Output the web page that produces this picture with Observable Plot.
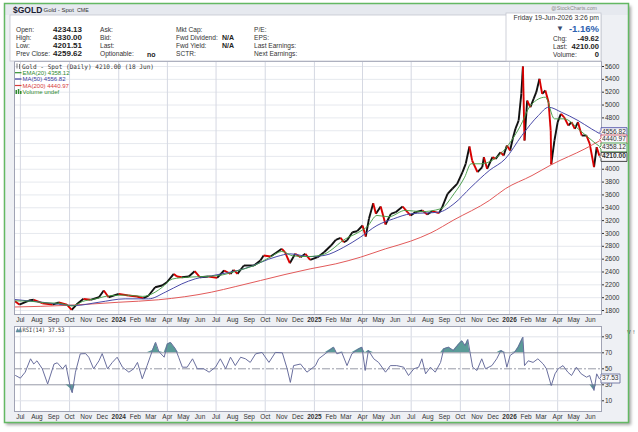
<!DOCTYPE html>
<html><head><meta charset="utf-8">
<script src="https://cdn.jsdelivr.net/npm/d3@7"></script>
<script src="https://cdn.jsdelivr.net/npm/@observablehq/plot@0.6"></script>
<style>
html,body{margin:0;padding:0;}
body{width:638px;height:432px;position:relative;overflow:hidden;background:#ffffff;}
#bg{position:absolute;left:4px;top:3px;width:625px;height:419px;background:#eef0f4;box-shadow:2px 3px 3px rgba(0,0,0,0.35);}
#main{position:absolute;left:0;top:61px;}
#rsi{position:absolute;left:0;top:326px;}
#over{position:absolute;left:0;top:0;pointer-events:none;}
#over text{dominant-baseline:central;}
</style></head><body>
<div id="bg"></div>
<div id="main"></div>
<div id="rsi"></div>
<svg id="over" width="638" height="432" font-family="Liberation Sans, Arial, sans-serif">
  <rect x="5" y="4" width="623" height="11" fill="#e6e9ef"/>
  <rect x="10" y="15" width="591" height="46" fill="#ffffff" stroke="#c3c6d0" stroke-width="0.8"/>
  <rect x="506" y="13" width="95" height="48" fill="#ffffff" stroke="#c3c6d0" stroke-width="0.8"/>
  <text x="13" y="9.8" font-size="8.5" font-weight="bold" fill="#1c2233">$GOLD</text>
  <text x="43.5" y="10" font-size="6" fill="#333">Gold - Spot</text>
  <text x="77" y="10" font-size="5.3" fill="#333">CME</text>
  <text x="597" y="7.5" font-size="5.3" fill="#8a8a8a" text-anchor="end">@StockCharts.com</text>

  <g font-size="6.6" fill="#333">
    <text x="16" y="29.5">Open:</text><text x="16" y="37.5">High:</text><text x="16" y="45.5">Low:</text><text x="16" y="53.5">Prev Close:</text>
    <text x="100" y="29.5">Ask:</text><text x="100" y="37.5">Bid:</text><text x="100" y="45.5">Last:</text><text x="100" y="53.5">Optionable:</text>
    <text x="176" y="29.5">Mkt Cap:</text><text x="176" y="37.5">Fwd Dividend:</text><text x="176" y="45.5">Fwd Yield:</text><text x="176" y="53.5">SCTR:</text>
    <text x="254" y="29.5">P/E:</text><text x="254" y="37.5">EPS:</text><text x="254" y="45.5">Last Earnings:</text><text x="254" y="53.5">Next Earnings:</text>
  </g>
  <g font-size="8" font-weight="bold" fill="#222" text-anchor="end">
    <text x="82" y="29.5">4234.13</text><text x="82" y="37.5">4330.00</text><text x="82" y="45.5">4201.51</text><text x="82" y="53.5">4259.62</text>
  </g>
  <g font-size="7" font-weight="bold" fill="#222">
    <text x="147" y="54">no</text>
    <text x="222" y="37.5">N/A</text><text x="222" y="45.5">N/A</text>
  </g>
  <text x="599" y="17" font-size="6.8" fill="#333" text-anchor="end">Friday  19-Jun-2026  3:26 pm</text>
  <text x="556" y="28.8" font-size="8" fill="#3a4a6b">▼</text>
  <text x="599" y="28.8" font-size="9.5" font-weight="bold" fill="#2c62b0" text-anchor="end">-1.16%</text>
  <g font-size="6.6" fill="#333">
    <text x="553" y="38">Chg:</text><text x="553" y="46">Last:</text><text x="553" y="54">Volume:</text>
  </g>
  <g font-size="7.6" font-weight="bold" fill="#222" text-anchor="end">
    <text x="599" y="38">-49.62</text><text x="599" y="46">4210.00</text><text x="599" y="54">0</text>
  </g>

  <g>
    <line x1="17" y1="63.5" x2="17" y2="68.5" stroke="#555" stroke-width="0.8"/>
    <line x1="19.5" y1="64" x2="19.5" y2="69" stroke="#555" stroke-width="0.8"/>
    <text x="22" y="66" font-size="6.3" font-family="DejaVu Sans Mono, monospace" fill="#333" textLength="132" lengthAdjust="spacingAndGlyphs">Gold - Spot (Daily) 4210.00 (18 Jun)</text>
    <line x1="15" y1="72.7" x2="21.5" y2="72.7" stroke="#2f8f2f" stroke-width="1.2"/>
    <text x="22.5" y="72.7" font-size="6" fill="#2f8a2f">EMA(20) 4358.12</text>
    <line x1="15" y1="79" x2="21.5" y2="79" stroke="#3b3b9e" stroke-width="1.2"/>
    <text x="22.5" y="79" font-size="6" fill="#3b3b9e">MA(50) 4556.82</text>
    <line x1="15" y1="85.5" x2="21.5" y2="85.5" stroke="#d63a3a" stroke-width="1.2"/>
    <text x="22.5" y="85.5" font-size="6" fill="#d63a3a">MA(200) 4440.97</text>
    <rect x="15.5" y="90" width="1.5" height="4" fill="#2f8a2f"/><rect x="17.8" y="89" width="1.5" height="5" fill="#2f8a2f"/><rect x="20" y="91" width="1.5" height="3" fill="#2f8a2f"/>
    <text x="22.5" y="92" font-size="6" fill="#2f8a2f">Volume undef</text>
  </g>
  <g>
    <path d="M16,332 L17.5,328.5 L19,331 L20.5,327.5 L21.5,332 Z" fill="#5a9b98" stroke="#5a6a9a" stroke-width="0.5"/>
    <text x="22.5" y="329.5" font-size="6" font-family="DejaVu Sans Mono, monospace" fill="#333" textLength="42" lengthAdjust="spacingAndGlyphs">RSI(14) 37.53</text>
  </g>
  <rect x="4.5" y="3.5" width="624" height="419" fill="none" stroke="#63b863" stroke-width="1.5"/>
</svg>
<script>
// ---------- data ----------
const priceDates = ["2023-06-21","2023-06-29","2023-07-17","2023-07-26","2023-08-11","2023-08-30","2023-09-11","2023-09-26","2023-10-05","2023-10-14","2023-10-27","2023-11-09","2023-11-25","2023-12-04","2023-12-13",
"2024-01-01","2024-01-19","2024-02-04","2024-02-16","2024-02-26","2024-03-09","2024-03-22","2024-03-31","2024-04-13","2024-04-19","2024-04-28","2024-05-11","2024-05-22","2024-06-01","2024-06-17","2024-07-03","2024-07-16","2024-07-28","2024-08-03","2024-08-10","2024-08-22","2024-09-10","2024-09-22","2024-09-28","2024-10-11","2024-10-20","2024-11-01","2024-11-07","2024-11-16","2024-11-26","2024-12-06","2024-12-15","2024-12-24",
"2025-01-07","2025-01-19","2025-02-01","2025-02-10","2025-02-19","2025-02-25","2025-03-03","2025-03-13","2025-03-22","2025-04-01","2025-04-07","2025-04-13","2025-04-21","2025-04-26","2025-05-05","2025-05-14","2025-05-24","2025-06-02","2025-06-15","2025-06-24","2025-06-30","2025-07-09","2025-07-22","2025-07-31","2025-08-09","2025-08-22","2025-08-28","2025-09-07","2025-09-16","2025-09-25","2025-10-05","2025-10-11","2025-10-18","2025-10-23","2025-11-02","2025-11-11","2025-11-14","2025-11-20","2025-11-30","2025-12-06","2025-12-15","2025-12-21","2025-12-27",
"2026-01-02","2026-01-07","2026-01-12","2026-01-18","2026-01-23","2026-01-26","2026-01-29","2026-02-03","2026-02-09","2026-02-15","2026-02-20","2026-02-26","2026-03-03","2026-03-09","2026-03-15","2026-03-19","2026-03-20","2026-03-26","2026-04-01","2026-04-07","2026-04-13","2026-04-21","2026-04-27","2026-05-03","2026-05-09","2026-05-16","2026-05-25","2026-05-31","2026-06-08","2026-06-13","2026-06-18"];
const priceVals = [1945,1893,1956,1967,1914,1893,1925,1893,1811,1893,1982,1967,2007,2111,2007,
2060,2034,2018,1990,2034,2163,2190,2240,2370,2330,2318,2330,2412,2318,2330,2309,2423,2371,2434,2371,2501,2501,2579,2657,2641,2692,2761,2708,2537,2683,2630,2683,2589,
2630,2708,2812,2901,2932,2864,2890,3019,3035,3124,2952,3228,3471,3306,3420,3139,3306,3332,3420,3332,3280,3332,3357,3295,3347,3316,3409,3617,3696,3773,3954,4085,4354,4136,3954,4032,4188,4007,4188,4162,4265,4214,4370,
4292,4474,4630,4759,5175,5600,4448,5070,4966,5097,5200,5408,5175,5226,5044,4600,4074,4448,4733,4863,4811,4681,4733,4630,4733,4525,4525,4396,4032,4343,4210];

const ema20Dates = ["2023-06-21","2023-07-20","2023-08-15","2023-09-10","2023-10-06","2023-10-25","2023-11-20","2023-12-15","2024-01-15","2024-02-15","2024-03-09","2024-03-22","2024-04-10","2024-05-11","2024-06-10","2024-07-10","2024-08-10","2024-09-10","2024-10-10","2024-11-01","2024-11-22","2024-12-20","2025-01-20","2025-02-01","2025-02-25","2025-03-25","2025-04-10","2025-04-28","2025-05-20","2025-06-20","2025-07-20","2025-08-25","2025-09-19","2025-10-09","2025-10-21","2025-11-08","2025-12-24","2026-01-20","2026-02-10","2026-03-09","2026-03-26","2026-04-13","2026-05-13","2026-06-08","2026-06-18"];
const ema20Vals = [1950,1945,1920,1915,1870,1940,1985,2030,2040,2020,2085,2160,2290,2320,2330,2350,2420,2500,2630,2720,2650,2640,2680,2740,2900,3020,3108,3280,3260,3360,3340,3384,3617,3876,4085,4085,4318,4655,5000,5122,4785,4785,4603,4421,4358];

const ma50Dates = ["2023-06-21","2023-08-11","2023-10-11","2023-11-25","2024-01-13","2024-02-26","2024-03-28","2024-04-28","2024-05-23","2024-06-22","2024-08-22","2024-10-23","2024-11-16","2024-12-24","2025-01-19","2025-02-25","2025-03-28","2025-04-28","2025-05-29","2025-06-30","2025-08-22","2025-09-19","2025-10-21","2025-11-24","2025-12-24","2026-01-24","2026-02-24","2026-03-15","2026-04-08","2026-05-09","2026-06-03","2026-06-18"];
const ma50Vals = [1971,1929,1878,1929,1982,1982,2085,2215,2293,2340,2449,2641,2683,2640,2657,2786,2942,3124,3228,3306,3332,3462,3721,3980,4162,4525,4837,4966,4888,4759,4630,4557];

const ma200Dates = ["2023-06-21","2023-09-26","2024-01-01","2024-03-15","2024-06-22","2024-08-07","2024-09-22","2024-11-07","2024-12-24","2025-02-10","2025-03-28","2025-05-14","2025-06-30","2025-08-07","2025-09-19","2025-11-24","2025-12-24","2026-02-12","2026-03-21","2026-05-22","2026-06-18"];
const ma200Vals = [1855,1880,1929,1967,2085,2174,2267,2361,2449,2527,2630,2761,2880,3010,3212,3513,3696,3902,4074,4318,4441];

const rsiDates = ["2023-06-22","2023-07-01","2023-07-10","2023-07-20","2023-07-26","2023-08-01","2023-08-11","2023-08-21","2023-09-02","2023-09-08","2023-09-18","2023-09-24","2023-10-03","2023-10-06","2023-10-12","2023-10-21","2023-10-31","2023-11-06","2023-11-15","2023-11-25","2023-12-01","2023-12-11","2023-12-20","2023-12-29",
"2024-01-08","2024-01-20","2024-01-29","2024-02-05","2024-02-14","2024-02-23","2024-03-04","2024-03-10","2024-03-16","2024-03-26","2024-04-01","2024-04-07","2024-04-16","2024-04-22","2024-04-29","2024-05-08","2024-05-18","2024-05-27","2024-06-08","2024-06-18","2024-06-30","2024-07-09","2024-07-19","2024-07-28","2024-08-06","2024-08-16","2024-08-25","2024-09-03","2024-09-13","2024-09-25","2024-10-08","2024-10-20","2024-11-02","2024-11-11","2024-11-17","2024-11-23","2024-12-06","2024-12-18",
"2025-01-03","2025-01-09","2025-01-21","2025-02-06","2025-02-12","2025-02-21","2025-03-03","2025-03-12","2025-03-25","2025-03-31","2025-04-06","2025-04-12","2025-04-22","2025-05-01","2025-05-14","2025-05-23","2025-06-04","2025-06-17","2025-06-26","2025-07-06","2025-07-15","2025-07-21","2025-07-28","2025-08-06","2025-08-15","2025-08-25","2025-08-31","2025-09-09","2025-09-18","2025-09-28","2025-10-04","2025-10-10","2025-10-15","2025-10-19","2025-10-24","2025-11-01","2025-11-10","2025-11-17","2025-11-29","2025-12-08","2025-12-16","2025-12-21","2025-12-27",
"2026-01-02","2026-01-11","2026-01-17","2026-01-26","2026-01-29","2026-02-05","2026-02-14","2026-02-23","2026-03-05","2026-03-11","2026-03-20","2026-03-27","2026-04-02","2026-04-11","2026-04-20","2026-04-27","2026-05-06","2026-05-15","2026-05-25","2026-05-31","2026-06-08","2026-06-13","2026-06-18"];
const rsiVals = [41.6,38.3,45.8,62.5,56,60,50,31,56,57.5,50,55,25,20,45.8,68.7,69,64.5,50,60,69,50,58,64.5,
52,45.8,50,58,37.5,54,73,83,71.6,64.5,81,83,75,64.5,52,52,62.5,50,50,45.8,52,62.5,50,64.5,54,64.5,62.5,58,68.7,70.5,58,70.5,70,50,33,54,56,45.8,
54,62.5,68.7,77,68.7,70.8,54,68.7,75,77,47.9,73,62.5,58,45.8,54,54,52,41.6,50,52,62.5,43.7,52,45.8,58,75,77,73,81,85,79,86.6,70.8,52,47.9,62.5,50,54,62.5,73,71,52,
66.6,71,77,89.5,54,60,58,62.5,56,50,29,43.7,50,54,45.8,41.6,52,43.7,39.5,41.6,22.9,43.7,37.53];

const yGrid = [1800,2000,2200,2400,2600,2800,3000,3200,3400,3600,3800,4000,4200,4400,4600,4800,5000,5200,5400,5600];
// tick labels visible in the reference (4200-4600 sit behind the value tags)
const yTickLabels = [1800,2000,2200,2400,2600,2800,3000,3200,3400,3600,3800,4000,4800,5000,5200,5400,5600];
const rsiTicks = [10,30,50,70,90];
const monthTicks = ["2023-07-01","2023-08-01","2023-09-01","2023-10-01","2023-11-01","2023-12-01","2024-02-01","2024-03-01","2024-04-01","2024-05-01","2024-06-01","2024-07-01","2024-08-01","2024-09-01","2024-10-01","2024-11-01","2024-12-01","2025-02-01","2025-03-01","2025-04-01","2025-05-01","2025-06-01","2025-07-01","2025-08-01","2025-09-01","2025-10-01","2025-11-01","2025-12-01","2026-02-01","2026-03-01","2026-04-01","2026-05-01","2026-06-01"];
const yearTicks = ["2024-01-01","2025-01-01","2026-01-01"];
const quarterTicks = ["2023-07-01","2023-10-01","2024-01-01","2024-04-01","2024-07-01","2024-10-01","2025-01-01","2025-04-01","2025-07-01","2025-10-01","2026-01-01","2026-04-01"];
const overlayLast = [4556.82, 4440.97, 4358.12, 4210.00]; // MA(50), MA(200), EMA(20), close
const rsiLast = 37.53;

// ---------- build ----------
const parse = d3.utcParse("%Y-%m-%d");
const rows = (ds, vs) => ds.map((d, i) => ({date: parse(d), v: vs[i]}));
const price = rows(priceDates, priceVals);
const ema20 = rows(ema20Dates, ema20Vals);
const ma50 = rows(ma50Dates, ma50Vals);
const ma200 = rows(ma200Dates, ma200Vals);
const rsi = rows(rsiDates, rsiVals);
const segs = d3.pairs(price, (a, b) => ({x1: a.date, y1: a.v, x2: b.date, y2: b.v, up: b.v >= a.v}));
const xDomain = [parse("2023-06-20"), parse("2026-06-22")];
const lastDate = price[price.length - 1].date;
const FONT = "Liberation Sans, Arial, sans-serif";
const axisStyle = {fontSize: 6.5, fontFamily: FONT};

function tip(v, stroke, bold, dy) {
  return Plot.tip([{date: lastDate, v, t: v.toFixed(2)}], {
    x: "date", y: "v", title: "t", anchor: "left", fill: "#f7f7fa", stroke, dy,
    fontSize: 6.6, fontFamily: FONT, fontWeight: bold ? "bold" : "normal",
    textPadding: 1, pointerSize: 3, pathFilter: "none", strokeWidth: 0.9
  });
}

const mainChart = Plot.plot({
  width: 638, height: 266, marginLeft: 14, marginRight: 37, marginTop: 0, marginBottom: 13,
  style: {background: "transparent", fontFamily: FONT, color: "#333", overflow: "visible"},
  x: {type: "utc", domain: xDomain},
  y: {domain: [1738, 5678]},
  marks: [
    Plot.frame({fill: "#ffffff"}),
    Plot.ruleY(yGrid, {stroke: "#e0e3ea", strokeWidth: 0.8}),
    Plot.ruleX(quarterTicks.map(parse), {stroke: "#d5d8e2", strokeWidth: 1}),
    Plot.link(segs.filter(d => d.up), {x1: "x1", y1: "y1", x2: "x2", y2: "y2", stroke: "#111111", strokeWidth: 1.9}),
    Plot.link(segs.filter(d => !d.up), {x1: "x1", y1: "y1", x2: "x2", y2: "y2", stroke: "#d80000", strokeWidth: 1.9}),
    Plot.line(ma200, {x: "date", y: "v", stroke: "#e25a5a", strokeWidth: 1, curve: "monotone-x"}),
    Plot.line(ma50, {x: "date", y: "v", stroke: "#4a4aa8", strokeWidth: 1, curve: "monotone-x"}),
    Plot.line(ema20, {x: "date", y: "v", stroke: "#3f9a3f", strokeWidth: 0.9, curve: "monotone-x"}),
    Plot.axisY(yTickLabels, {anchor: "right", tickSize: 2, tickPadding: 1.5, tickFormat: d => String(d), ...axisStyle}),
    Plot.axisX(monthTicks.map(parse), {anchor: "bottom", tickSize: 0, tickPadding: 2.5, tickFormat: d3.utcFormat("%b"), ...axisStyle}),
    Plot.axisX(yearTicks.map(parse), {anchor: "bottom", tickSize: 0, tickPadding: 2.5, tickFormat: d3.utcFormat("%Y"), fontWeight: "bold", ...axisStyle}),
    Plot.frame({stroke: "#a0a3b4"}),
    tip(overlayLast[0], "#5050a8", false, -1.3),
    tip(overlayLast[1], "#d05a6a", false, -1),
    tip(overlayLast[2], "#3f9a3f", false, 1),
    tip(overlayLast[3], "#333333", true, 1.4)
  ]
});
document.getElementById("main").append(mainChart);

const rsiChart = Plot.plot({
  width: 638, height: 96, marginLeft: 14, marginRight: 37, marginTop: 0, marginBottom: 11,
  style: {background: "transparent", fontFamily: FONT, color: "#333", overflow: "visible"},
  x: {type: "utc", domain: xDomain},
  y: {domain: [-3.4, 102.9]},
  marks: [
    Plot.frame({fill: "#ffffff"}),
    Plot.ruleX(quarterTicks.map(parse), {stroke: "#d5d8e2"}),
    Plot.ruleY([10, 90], {stroke: "#e0e3ea"}),
    Plot.areaY(rsi, {x: "date", y1: d => 70, y2: d => Math.max(70, d.v), fill: "#5a9b98"}),
    Plot.areaY(rsi, {x: "date", y1: d => 30, y2: d => Math.min(30, d.v), fill: "#5a9b98"}),
    Plot.ruleY([30, 70], {stroke: "#8c8f9e", strokeWidth: 0.9}),
    Plot.ruleY([50], {stroke: "#8c8f9e", strokeWidth: 0.9, strokeDasharray: "8,2,2,2"}),
    Plot.line(rsi, {x: "date", y: "v", stroke: "#6a6f9e", strokeWidth: 1}),
    Plot.axisY(rsiTicks, {anchor: "right", tickSize: 2, tickPadding: 1.5, ...axisStyle}),
    Plot.axisX(monthTicks.map(parse), {anchor: "bottom", tickSize: 0, tickPadding: 2.5, tickFormat: d3.utcFormat("%b"), ...axisStyle}),
    Plot.axisX(yearTicks.map(parse), {anchor: "bottom", tickSize: 0, tickPadding: 2.5, tickFormat: d3.utcFormat("%Y"), fontWeight: "bold", ...axisStyle}),
    Plot.frame({stroke: "#a0a3b4"}),
    Plot.tip([{date: lastDate, v: rsiLast, t: rsiLast.toFixed(2)}], {
      x: "date", y: "v", title: "t", anchor: "left", fill: "#f7f7fa", stroke: "#6a6f9e",
      fontSize: 6.6, fontFamily: FONT, textPadding: 1, pointerSize: 3, pathFilter: "none", strokeWidth: 0.9
    })
  ]
});
document.getElementById("rsi").append(rsiChart);
</script>
</body></html>
